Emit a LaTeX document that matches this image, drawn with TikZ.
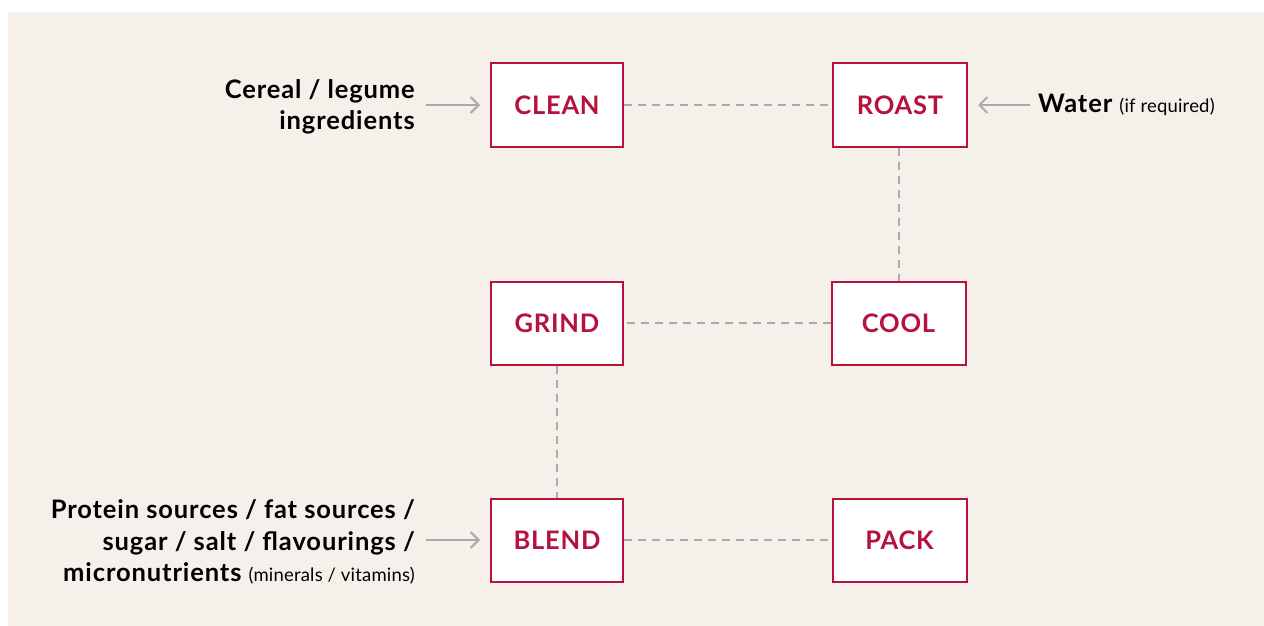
\documentclass[tikz,border=0pt]{standalone}
\usepackage{fontspec}
\setmainfont{Lato}
\usetikzlibrary{arrows.meta}
\definecolor{beige}{HTML}{F5F0EA}
\definecolor{crim}{HTML}{B5123E}
\definecolor{lgray}{HTML}{ABABAB}
\tikzset{
  stepbox/.style={draw=crim, line width=2pt, fill=white, minimum width=132pt, minimum height=83pt, inner sep=0pt, text=crim, font=\fontsize{25.5}{30}\selectfont\bfseries\addfontfeature{LetterSpace=3}},
  link/.style={draw=lgray, line width=2pt, dash pattern=on 8pt off 6pt},
  feed/.style={draw=lgray, line width=2pt, -{Straight Barb[length=8pt,width=16pt,line width=2pt]}},
  lbl/.style={inner sep=0pt, align=right, font=\fontsize{25.5}{31.5}\selectfont\bfseries\addfontfeature{LetterSpace=3.5}},
}
\newcommand{\smalltxt}[1]{{\fontsize{18.5}{31.5}\selectfont\mdseries\addfontfeature{LetterSpace=1}#1}}
\begin{document}
\begin{tikzpicture}[x=1pt,y=-1pt]
\useasboundingbox (0,0) rectangle (1264,626);
\fill[white] (0,0) rectangle (1264,626);
\fill[beige] (8,12) rectangle (1264,626);
\node[stepbox] (clean) at (557,105) {CLEAN};
\node[stepbox, minimum width=134pt] (roast) at (900,105) {ROAST};
\node[stepbox] (grind) at (557,323) {GRIND};
\node[stepbox, minimum width=134pt] (cool) at (898.5,323) {COOL};
\node[stepbox] (blend) at (557,540) {BLEND};
\node[stepbox, minimum width=134pt] (pack) at (899.5,540) {PACK};
\draw[link] (clean.east) -- (roast.west);
\draw[link] (roast.south -| cool.north) -- (cool.north);
\draw[link] (cool.west) -- (grind.east);
\draw[link] (grind.south) -- (blend.north);
\draw[link] (blend.east) -- (pack.west);
\node[lbl, anchor=east] (cereal) at (415,107) {Cereal / legume\\ingredients};
\node[lbl, anchor=east] (protein) at (415,542) {Protein sources / fat sources /\\sugar / salt / flavourings /\\micronutrients \smalltxt{(minerals / vitamins)}};
\node[lbl, anchor=base west] (water) at (1038,112) {Water \smalltxt{(if required)}};
\coordinate (c1) at (426,105);
\coordinate (c2) at (1030,105);
\coordinate (c3) at (426,540);
\draw[feed] (c1) -- ([xshift=-10pt]clean.west);
\draw[feed] (c2) -- ([xshift=10pt]roast.east);
\draw[feed] (c3) -- ([xshift=-10pt]blend.west);
\end{tikzpicture}
\end{document}
